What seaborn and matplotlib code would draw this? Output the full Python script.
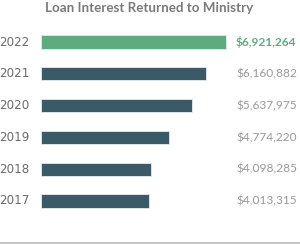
import matplotlib
matplotlib.use("Agg")
import matplotlib.pyplot as plt
import seaborn as sns
import pandas as pd
from matplotlib.lines import Line2D

years = ["2022", "2021", "2020", "2019", "2018", "2017"]
values = [6921264, 6160882, 5637975, 4774220, 4098285, 4013315]
labels = ["$6,921,264", "$6,160,882", "$5,637,975", "$4,774,220", "$4,098,285", "$4,013,315"]
title = "Loan Interest Returned to Ministry"

GREEN = "#5fab80"
DARK = "#3a5a68"

df = pd.DataFrame({"year": years, "value": values})
colors = [GREEN] + [DARK] * (len(years) - 1)

sns.set_style("white")
fig = plt.figure(figsize=(3.0, 2.44), dpi=100)
ax = fig.add_axes([41 / 300, 0, 259 / 300, 1])
sns.barplot(data=df, y="year", x="value", hue="year", palette=colors, legend=False,
            orient="h", width=0.42, ax=ax, edgecolor="#e6ecee", linewidth=0.6,
            saturation=1)

px_per_unit = 26.8 / 1e6
ax.set_xlim(0, 259 / px_per_unit)
spacing = 31.8
top = 42
ax.set_ylim((244 - top) / spacing, (0 - top) / spacing)
ax.axis("off")

for i, (y, v, lab) in enumerate(zip(years, values, labels)):
    fig.text(29.5 / 300, 1 - (top + i * spacing) / 244, y, ha="right", va="center",
             fontsize=8.6, color="#6a6a6a", family="DejaVu Sans")
    fig.text(236 / 300, 1 - (top + i * spacing) / 244, lab, ha="left", va="center",
             fontsize=8.6, color=GREEN if i == 0 else "#9a9a9a", family="Lato",
             fontweight="bold" if i == 0 else "normal")

fig.text(0.497, 1 - 8 / 244, title, ha="center", va="center", fontsize=9.6,
         color="#7a7a7a", family="Lato", fontweight="bold")

fig.add_artist(Line2D([0, 1], [1 - 242.5 / 244] * 2, color="#c8c8c8", lw=1.5,
                      transform=fig.transFigure))

fig.savefig("out.png", dpi=100)
